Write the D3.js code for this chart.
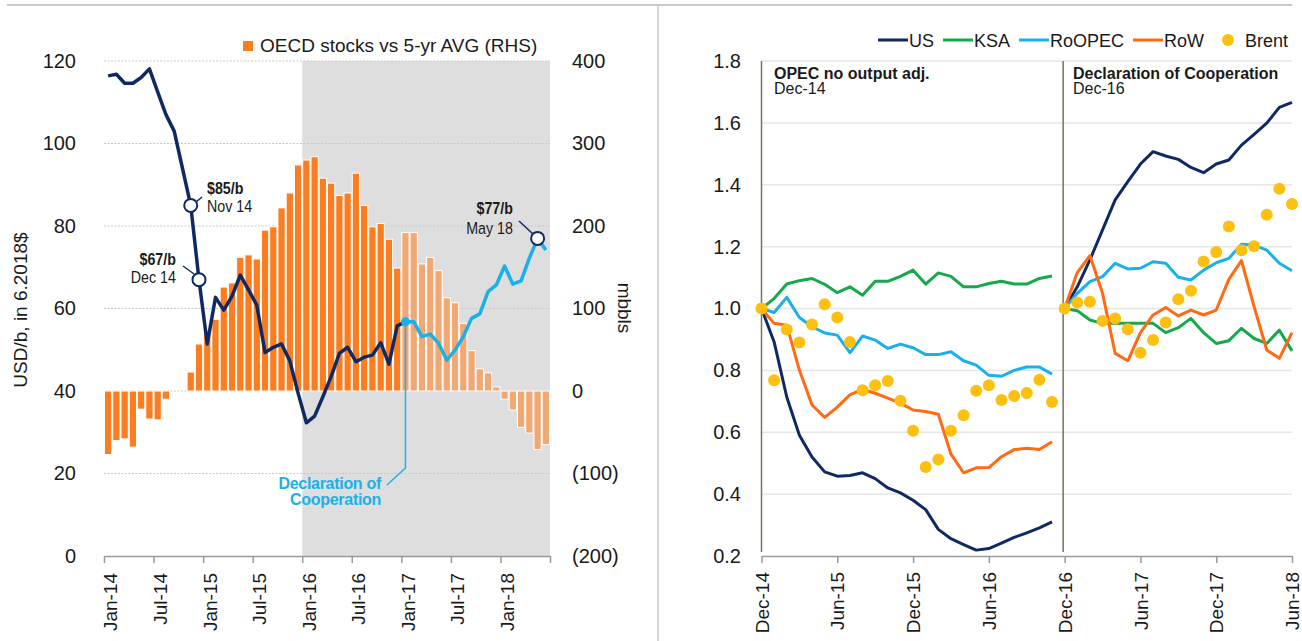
<!DOCTYPE html>
<html>
<head>
<meta charset="utf-8">
<script src="https://cdn.jsdelivr.net/npm/d3@7"></script>
<style>
body { margin: 0; background: #fff; }
svg { display: block; font-family: "Liberation Sans", Arial, sans-serif; }
</style>
</head>
<body>
<svg id="chart" width="1302" height="641"></svg>
<script>
// ---- left panel: monthly, Jan-14 .. Jun-18 ----
var brentPrice = [116.4, 116.8, 114.6, 114.6, 116.0, 118.1, 112.5, 107.0, 103.0, 94.0,
    85.0, 67.0, 51.4, 62.7, 59.6, 63.0, 68.1, 64.5, 60.8, 49.3,
    50.6, 51.4, 47.3, 39.5, 32.3, 33.9, 38.6, 43.5, 49.1, 50.6,
    47.1, 48.2, 48.7, 51.7, 46.5, 55.8, 56.8, 56.8, 53.2, 53.8,
    51.6, 47.5, 49.9, 53.2, 57.6, 58.7, 64.1, 65.7, 70.3, 65.9,
    66.7, 72.2, 77.0, 74.2];
var oecdStocks = [-77, -60, -58, -68, -22, -34, -35, -10, 0, 0,
    23, 57, 70, 87, 126, 131, 162, 165, 160, 195,
    199, 222, 240, 274, 280, 284, 258, 252, 237, 240,
    264, 225, 199, 203, 184, 149, 192, 192, 154, 162,
    146, 113, 107, 82, 49, 27, 22, 5, -10, -23,
    -44, -51, -71, -65];
var leftTickLabels = ['Jan-14', 'Jul-14', 'Jan-15', 'Jul-15', 'Jan-16', 'Jul-16', 'Jan-17', 'Jul-17', 'Jan-18', ''];
var priceTicks = [0, 20, 40, 60, 80, 100, 120];
var stockTicks = [-200, -100, 0, 100, 200, 300, 400];

// ---- right panel: drilling activity, index = 1 at the event ----
// after Dec-14 (Dec-14 .. Nov-16)
var us1 = [1.0, 0.892, 0.714, 0.590, 0.520, 0.472, 0.458, 0.460, 0.469, 0.450, 0.420, 0.404,
    0.380, 0.350, 0.286, 0.256, 0.237, 0.219, 0.224, 0.242, 0.260, 0.275, 0.291, 0.310];
var ksa1 = [1.0, 1.032, 1.079, 1.090, 1.097, 1.078, 1.051, 1.070, 1.043, 1.088, 1.088, 1.104,
    1.124, 1.079, 1.115, 1.104, 1.070, 1.070, 1.081, 1.088, 1.079, 1.079, 1.097, 1.105];
var roopec1 = [1.0, 0.987, 1.036, 0.971, 0.941, 0.921, 0.914, 0.857, 0.911, 0.898, 0.871, 0.885,
    0.873, 0.851, 0.851, 0.860, 0.831, 0.817, 0.784, 0.781, 0.800, 0.811, 0.811, 0.788];
var row1 = [1.0, 0.952, 0.946, 0.801, 0.688, 0.648, 0.681, 0.721, 0.739, 0.726, 0.710, 0.694,
    0.672, 0.667, 0.658, 0.529, 0.469, 0.485, 0.486, 0.521, 0.544, 0.548, 0.544, 0.569];
var brent1 = [1.0, 0.768, 0.932, 0.890, 0.948, 1.014, 0.971, 0.892, 0.736, 0.752, 0.766, 0.702,
    0.605, 0.488, 0.512, 0.605, 0.655, 0.734, 0.752, 0.704, 0.717, 0.727, 0.770, 0.698];
// after Dec-16 (Dec-16 .. Jun-18)
var us2 = [1.0, 1.070, 1.157, 1.254, 1.351, 1.410, 1.467, 1.507, 1.493, 1.482, 1.456, 1.439,
    1.467, 1.480, 1.528, 1.563, 1.599, 1.650, 1.666];
var ksa2 = [1.0, 0.993, 0.963, 0.952, 0.952, 0.952, 0.952, 0.952, 0.922, 0.938, 0.968, 0.922,
    0.887, 0.896, 0.936, 0.903, 0.887, 0.930, 0.863];
var roopec2 = [1.0, 1.049, 1.087, 1.103, 1.146, 1.128, 1.130, 1.151, 1.146, 1.101, 1.092, 1.124,
    1.148, 1.162, 1.208, 1.205, 1.189, 1.146, 1.122];
var row2 = [1.0, 1.116, 1.171, 1.049, 0.855, 0.831, 0.922, 0.979, 1.003, 0.976, 0.995, 0.979,
    0.995, 1.094, 1.155, 1.006, 0.866, 0.839, 0.922];
var brent2 = [1.0, 1.019, 1.022, 0.960, 0.968, 0.933, 0.857, 0.898, 0.955, 1.030, 1.057, 1.152,
    1.183, 1.265, 1.188, 1.201, 1.303, 1.387, 1.338];
var rightTickLabels = ['Dec-14', 'Jun-15', 'Dec-15', 'Jun-16', 'Dec-16', 'Jun-17', 'Dec-17', 'Jun-18'];
var indexTicks = [0.2, 0.4, 0.6, 0.8, 1.0, 1.2, 1.4, 1.6, 1.8];

var FONT = '"Liberation Sans", Arial, sans-serif',
    NAVY = '#0f2a62', LBLUE = '#1ab0ea', GREEN = '#17a84b', RED = '#ff6a12',
    GOLD = '#fdc011', BAR = '#fb7d1f', BAR_LIGHT = '#f1a872', TXT = '#1a1a1a';

var svg = d3.select('#chart');

// panel frame
svg.append('line').attr('x1', 7).attr('x2', 1292).attr('y1', 5).attr('y2', 5)
    .attr('stroke', '#c8c8c8').attr('stroke-width', 2);
svg.append('line').attr('x1', 658).attr('x2', 658).attr('y1', 5).attr('y2', 641)
    .attr('stroke', '#c8c8c8').attr('stroke-width', 1.5);

function styleAxis(g, size) {
    g.attr('font-family', FONT).attr('font-size', size);
    g.selectAll('text').attr('fill', TXT);
    g.selectAll('.domain, .tick line').attr('stroke', '#9a9a9a').attr('stroke-width', 1.5);
}

function narrow(parent, x, y, str, anchor, bold) {
    parent.append('text')
        .attr('transform', 'translate(' + x + ',' + y + ') scale(0.84,1)')
        .attr('text-anchor', anchor)
        .attr('font-size', 17)
        .attr('font-weight', bold ? 'bold' : 'normal')
        .attr('fill', TXT)
        .text(str);
}

// ================= LEFT PANEL =================
var xL = d3.scaleLinear().domain([0, 54]).range([104, 550]),
    yL = d3.scaleLinear().domain([0, 120]).range([556, 61]),
    yS = d3.scaleLinear().domain([-200, 400]).range([556, 61]),
    slot = xL(1) - xL(0),
    left = svg.append('g');

left.append('rect')
    .attr('x', xL(24)).attr('y', yL(120))
    .attr('width', xL(54) - xL(24)).attr('height', yL(0) - yL(120))
    .attr('fill', '#dedede');

left.selectAll('line.grid').data(priceTicks.slice(1)).enter().append('line')
    .attr('x1', xL(0)).attr('x2', xL(54))
    .attr('y1', function(d) { return yL(d); }).attr('y2', function(d) { return yL(d); })
    .attr('stroke', '#c8c8c8').attr('stroke-dasharray', '2,1.5');

left.selectAll('rect.bar').data(oecdStocks).enter().append('rect')
    .attr('x', function(d, i) { return xL(i) + 0.5; })
    .attr('width', slot - 1)
    .attr('y', function(d) { return yS(Math.max(0, d)); })
    .attr('height', function(d) { return Math.abs(yS(d) - yS(0)); })
    .attr('fill', function(d, i) { return i >= 36 ? BAR_LIGHT : BAR; })
    .attr('stroke', '#fff').attr('stroke-width', 1);

var priceLine = d3.line()
    .x(function(d) { return xL(d.i + 0.5); })
    .y(function(d) { return yL(d.v); });
var pricePts = brentPrice.map(function(v, i) { return {i: i, v: v}; });

left.append('path').datum(pricePts.slice(0, 37))
    .attr('d', priceLine).attr('fill', 'none')
    .attr('stroke', NAVY).attr('stroke-width', 3.5).attr('stroke-linejoin', 'round');
left.append('path').datum(pricePts.slice(36))
    .attr('d', priceLine).attr('fill', 'none')
    .attr('stroke', LBLUE).attr('stroke-width', 3.5).attr('stroke-linejoin', 'round');

// Declaration of Cooperation callout
var decX = xL(36.5), decY = yL(brentPrice[36]);
left.append('path')
    .attr('d', 'M' + decX + ',' + decY + 'V468L387,485')
    .attr('fill', 'none').attr('stroke', LBLUE).attr('stroke-width', 1.5);
left.append('circle').attr('cx', decX).attr('cy', decY).attr('r', 4.5).attr('fill', LBLUE);
left.append('text').attr('x', 381).attr('y', 489).attr('text-anchor', 'end')
    .attr('font-size', 16).attr('font-weight', 'bold').attr('fill', LBLUE)
    .attr('letter-spacing', -0.3).text('Declaration of');
left.append('text').attr('x', 381).attr('y', 505).attr('text-anchor', 'end')
    .attr('font-size', 16).attr('font-weight', 'bold').attr('fill', LBLUE)
    .attr('letter-spacing', -0.3).text('Cooperation');

// price markers
var marks = [
    {i: 10, lx1: 196, ly1: 202, lx2: 202, ly2: 197},
    {i: 11, lx1: 194, ly1: 274, lx2: 183, ly2: 266},
    {i: 52, lx1: 533, ly1: 234, lx2: 519, ly2: 221}
];
marks.forEach(function(m) {
    left.append('line').attr('x1', m.lx1).attr('y1', m.ly1).attr('x2', m.lx2).attr('y2', m.ly2)
        .attr('stroke', NAVY).attr('stroke-width', 1.5);
    left.append('circle').attr('cx', xL(m.i + 0.5)).attr('cy', yL(brentPrice[m.i])).attr('r', 6.5)
        .attr('fill', '#fff').attr('stroke', NAVY).attr('stroke-width', 2);
});
narrow(left, 207, 194, '$85/b', 'start', true);
narrow(left, 207, 212, 'Nov 14', 'start', false);
narrow(left, 176, 265, '$67/b', 'end', true);
narrow(left, 176, 283, 'Dec 14', 'end', false);
narrow(left, 513, 214, '$77/b', 'end', true);
narrow(left, 513, 234, 'May 18', 'end', false);

// axes
var axL = left.append('g').attr('transform', 'translate(0,556)')
    .call(d3.axisBottom(xL).tickValues(d3.range(0, 55, 6))
        .tickFormat(function(d, i) { return leftTickLabels[i]; })
        .tickSize(7).tickSizeOuter(0));
styleAxis(axL, 19);
axL.selectAll('text').attr('transform', 'rotate(-90)').attr('text-anchor', 'end')
    .attr('x', -17).attr('y', 0).attr('dy', '0.68em');

var ayL = left.append('g').attr('transform', 'translate(76,0)')
    .call(d3.axisLeft(yL).tickValues(priceTicks).tickSize(0).tickPadding(0));
styleAxis(ayL, 20);
ayL.select('.domain').remove();

var ayS = left.append('g').attr('transform', 'translate(572,0)')
    .call(d3.axisRight(yS).tickValues(stockTicks).tickSize(0).tickPadding(0)
        .tickFormat(function(d) { return d < 0 ? '(' + (-d) + ')' : d; }));
styleAxis(ayS, 20);
ayS.select('.domain').remove();

left.append('text').attr('transform', 'translate(27,310) rotate(-90)')
    .attr('text-anchor', 'middle').attr('font-size', 19).attr('fill', TXT)
    .text('USD/b, in 6.2018$');
left.append('text').attr('transform', 'translate(618,308) rotate(90)')
    .attr('text-anchor', 'middle').attr('font-size', 19).attr('fill', TXT)
    .text('mbbls');

left.append('rect').attr('x', 243).attr('y', 41).attr('width', 10).attr('height', 10).attr('fill', BAR);
left.append('text').attr('x', 260).attr('y', 52).attr('font-size', 19).attr('fill', TXT)
    .text('OECD stocks vs 5-yr AVG (RHS)');

// ================= RIGHT PANEL =================
var xD = d3.scaleLinear().domain([0, 42]).range([761.5, 1292]),
    yD = d3.scaleLinear().domain([0.2, 1.8]).range([556, 61]),
    right = svg.append('g');

right.selectAll('line.grid').data(indexTicks.slice(1)).enter().append('line')
    .attr('x1', xD(0)).attr('x2', xD(42))
    .attr('y1', function(d) { return yD(d); }).attr('y2', function(d) { return yD(d); })
    .attr('stroke', '#e6e6e6').attr('stroke-width', 1.5);

var axD = right.append('g').attr('transform', 'translate(0,556)')
    .call(d3.axisBottom(xD).tickValues(d3.range(0, 43, 6))
        .tickFormat(function(d, i) { return rightTickLabels[i]; })
        .tickSize(7).tickSizeOuter(0));
styleAxis(axD, 19);
axD.selectAll('text').attr('transform', 'rotate(-90)').attr('text-anchor', 'end')
    .attr('x', -16).attr('y', 0).attr('dy', '0.35em');

var ayD = right.append('g').attr('transform', 'translate(741,0)')
    .call(d3.axisLeft(yD).tickValues(indexTicks).tickSize(0).tickPadding(0)
        .tickFormat(d3.format('.1f')));
styleAxis(ayD, 20);
ayD.select('.domain').remove();

// event lines
[xD(0), xD(24) - 1.5].forEach(function(x) {
    right.append('line').attr('x1', x).attr('x2', x).attr('y1', 61).attr('y2', 552)
        .attr('stroke', '#77725c').attr('stroke-width', 1.5);
});
right.append('text').attr('x', 774).attr('y', 78.5).attr('font-size', 16)
    .attr('font-weight', 'bold').attr('fill', TXT).text('OPEC no output adj.');
right.append('text').attr('x', 774).attr('y', 93.5).attr('font-size', 16)
    .attr('fill', TXT).text('Dec-14');
right.append('text').attr('x', 1073).attr('y', 78.5).attr('font-size', 16)
    .attr('font-weight', 'bold').attr('fill', TXT).text('Declaration of Cooperation');
right.append('text').attr('x', 1073).attr('y', 93.5).attr('font-size', 16)
    .attr('fill', TXT).text('Dec-16');

var drill = [
    {name: 'US', color: NAVY, a: us1, b: us2},
    {name: 'KSA', color: GREEN, a: ksa1, b: ksa2},
    {name: 'RoOPEC', color: LBLUE, a: roopec1, b: roopec2},
    {name: 'RoW', color: RED, a: row1, b: row2}
];
var seg = function(offset) {
    return d3.line()
        .x(function(d, i) { return xD(offset + i); })
        .y(function(d) { return yD(d); });
};
drill.forEach(function(s) {
    [[s.a, 0], [s.b, 24]].forEach(function(p) {
        right.append('path').datum(p[0]).attr('d', seg(p[1]))
            .attr('fill', 'none').attr('stroke', s.color).attr('stroke-width', 3)
            .attr('stroke-linejoin', 'round');
    });
});
[[brent1, 0], [brent2, 24]].forEach(function(p) {
    right.selectAll(null).data(p[0]).enter().append('circle')
        .attr('cx', function(d, i) { return xD(p[1] + i); })
        .attr('cy', function(d) { return yD(d); })
        .attr('r', 6).attr('fill', GOLD);
});

// legend
var legend = right.append('g').attr('font-size', 18).attr('fill', TXT);
var legX = [878, 943, 1019, 1133];
drill.forEach(function(s, k) {
    legend.append('line').attr('x1', legX[k]).attr('x2', legX[k] + 30).attr('y1', 40).attr('y2', 40)
        .attr('stroke', s.color).attr('stroke-width', 3);
    legend.append('text').attr('x', legX[k] + 31).attr('y', 46.5).text(s.name);
});
legend.append('circle').attr('cx', 1228).attr('cy', 40).attr('r', 6).attr('fill', GOLD);
legend.append('text').attr('x', 1245).attr('y', 46.5).text('Brent');
</script>
</body>
</html>
